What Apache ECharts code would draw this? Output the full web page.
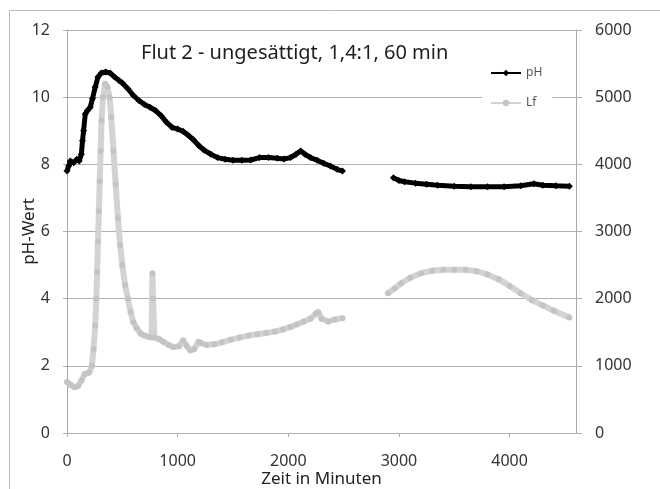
<!DOCTYPE html>
<html>
<head>
<meta charset="utf-8">
<script src="https://cdn.jsdelivr.net/npm/echarts@6/dist/echarts.min.js"></script>
<style>
  html, body { margin: 0; padding: 0; background: #fff; }
  #chart { width: 660px; height: 489px; }
</style>
</head>
<body>
<div id="chart"></div>
<script>
// Flut 2 – pH and conductivity (Lf) over time
const titleText = 'Flut 2 - ungesättigt, 1,4:1, 60 min';

// pH, first measuring run (minutes, pH)
const phTime1 = [0, 15, 30, 60, 90, 110, 130, 140, 150, 165, 185, 210, 230, 255, 280, 310, 350, 390, 430, 470, 500, 550, 600, 650, 700, 750, 800, 850, 900, 950, 1000, 1050, 1090, 1140, 1190, 1240, 1300, 1360, 1430, 1500, 1580, 1660, 1740, 1820, 1900, 1960, 2020, 2070, 2112, 2150, 2200, 2260, 2320, 2380, 2440, 2490];
const phVal1  = [7.8, 7.95, 8.1, 8.05, 8.15, 8.1, 8.3, 8.7, 9.0, 9.5, 9.6, 9.7, 9.95, 10.3, 10.6, 10.72, 10.75, 10.72, 10.6, 10.5, 10.42, 10.25, 10.05, 9.9, 9.78, 9.7, 9.6, 9.45, 9.25, 9.1, 9.05, 8.98, 8.88, 8.74, 8.56, 8.42, 8.3, 8.2, 8.15, 8.12, 8.12, 8.13, 8.2, 8.2, 8.18, 8.16, 8.2, 8.3, 8.4, 8.3, 8.2, 8.12, 8.03, 7.95, 7.85, 7.8];

// pH, second measuring run
const phTime2 = [2950, 3000, 3050, 3150, 3250, 3350, 3500, 3650, 3800, 3950, 4100, 4220, 4300, 4420, 4540];
const phVal2  = [7.6, 7.52, 7.48, 7.44, 7.41, 7.38, 7.35, 7.33, 7.33, 7.33, 7.36, 7.42, 7.38, 7.36, 7.35];

// Lf, first measuring run (minutes, conductivity)
const lfTime1 = [0, 30, 70, 100, 130, 160, 200, 225, 240, 255, 265, 272, 280, 288, 296, 304, 312, 325, 345, 365, 385, 400, 420, 440, 460, 480, 500, 525, 550, 575, 600, 630, 665, 700, 740, 765, 772, 778, 790, 830, 870, 920, 960, 1010, 1050, 1080, 1115, 1150, 1190, 1210, 1260, 1330, 1400, 1480, 1560, 1640, 1720, 1800, 1880, 1950, 2020, 2080, 2140, 2200, 2250, 2270, 2300, 2360, 2420, 2490];
const lfVal1  = [760, 720, 680, 700, 780, 880, 900, 1000, 1250, 1600, 2000, 2400, 2850, 3300, 3750, 4200, 4650, 5000, 5200, 5150, 5000, 4700, 4200, 3700, 3200, 2800, 2500, 2200, 2000, 1800, 1650, 1560, 1480, 1450, 1430, 1420, 2380, 2000, 1420, 1400, 1360, 1310, 1280, 1290, 1380, 1300, 1230, 1250, 1360, 1340, 1310, 1320, 1350, 1390, 1420, 1450, 1470, 1490, 1510, 1540, 1580, 1620, 1660, 1700, 1780, 1800, 1700, 1660, 1690, 1710];

// Lf, second measuring run
const lfTime2 = [2900, 2960, 3020, 3100, 3200, 3300, 3400, 3500, 3600, 3700, 3800, 3900, 4000, 4100, 4200, 4300, 4400, 4540];
const lfVal2  = [2080, 2150, 2230, 2310, 2380, 2415, 2430, 2430, 2430, 2410, 2360, 2290, 2190, 2080, 1980, 1900, 1820, 1720];

// Axis ticks
const xTicks = [0, 1000, 2000, 3000, 4000];
const phTicks = [0, 2, 4, 6, 8, 10, 12];
const lfTicks = [0, 1000, 2000, 3000, 4000, 5000, 6000];

const pairs = (xs, ys) => xs.map((x, i) => [x, ys[i]]);

const FONT = '"Noto Sans", "Open Sans", sans-serif';
const labelColor = '#333';
const gridColor = '#b0b0b0';

const phStyle = {
  type: 'line',
  name: 'pH',
  yAxisIndex: 0,
  z: 5,
  symbol: 'diamond',
  symbolSize: 7,
  showSymbol: true,
  itemStyle: { color: '#000' },
  lineStyle: { color: '#000', width: 5 },
  emphasis: { disabled: true },
  animation: false
};
const lfStyle = {
  type: 'line',
  name: 'Lf',
  yAxisIndex: 1,
  z: 3,
  symbol: 'circle',
  symbolSize: 6,
  showSymbol: true,
  itemStyle: { color: '#c4c4c4' },
  lineStyle: { color: '#d3d3d3', width: 6 },
  emphasis: { disabled: true },
  animation: false
};

const chart = echarts.init(document.getElementById('chart'), null, { renderer: 'canvas' });
chart.setOption({
  animation: false,
  backgroundColor: '#fff',
  textStyle: { fontFamily: FONT },
  title: {
    text: titleText,
    left: 141,
    top: 43,
    padding: 0,
    textStyle: { fontFamily: FONT, fontSize: 20, fontWeight: 'normal', color: '#1e1e1e' }
  },
  legend: {
    data: ['pH', 'Lf'],
    orient: 'vertical',
    left: 482,
    top: 65,
    itemWidth: 30,
    itemHeight: 8,
    itemGap: 18,
    padding: [2, 10, 2, 8],
    backgroundColor: '#fff',
    textStyle: { fontFamily: FONT, fontSize: 12, color: '#555' }
  },
  graphic: [{
    type: 'rect',
    shape: { x: 9.5, y: 10.5, width: 700, height: 520 },
    style: { fill: 'none', stroke: '#bcbcbc', lineWidth: 1 },
    silent: true,
    z: -1
  }],
  grid: { left: 67, right: 84, top: 30, bottom: 56, containLabel: false, outerBoundsMode: 'none' },
  xAxis: {
    type: 'value',
    min: xTicks[0],
    max: 4600,
    interval: xTicks[1] - xTicks[0],
    name: 'Zeit in Minuten',
    nameLocation: 'middle',
    nameGap: 38,
    nameMoveOverlap: false,
    nameTextStyle: { fontFamily: FONT, fontSize: 17, color: '#222' },
    axisLine: { show: true, lineStyle: { color: gridColor } },
    axisTick: { show: true, length: 4, lineStyle: { color: gridColor } },
    axisLabel: {
      fontFamily: FONT, fontSize: 16, color: labelColor, margin: 20,
      showMaxLabel: false,
      formatter: v => (xTicks.includes(v) ? String(v) : '')
    },
    splitLine: { show: false }
  },
  yAxis: [{
    type: 'value',
    min: phTicks[0],
    max: phTicks[phTicks.length - 1],
    interval: phTicks[1] - phTicks[0],
    name: 'pH-Wert',
    nameLocation: 'middle',
    nameGap: 29,
    nameMoveOverlap: false,
    nameTextStyle: { fontFamily: FONT, fontSize: 17, color: '#222' },
    axisLine: { show: true, lineStyle: { color: '#a8a8a8' } },
    axisTick: { show: true, length: 4, lineStyle: { color: gridColor } },
    axisLabel: { fontFamily: FONT, fontSize: 16, color: labelColor, margin: 17 },
    splitLine: { show: true, lineStyle: { color: gridColor, width: 1 } }
  }, {
    type: 'value',
    position: 'right',
    min: lfTicks[0],
    max: lfTicks[lfTicks.length - 1],
    interval: lfTicks[1] - lfTicks[0],
    axisLine: { show: true, lineStyle: { color: '#a8a8a8' } },
    axisTick: { show: true, length: 6, lineStyle: { color: gridColor } },
    axisLabel: { fontFamily: FONT, fontSize: 16, color: labelColor, margin: 19, formatter: v => String(v) },
    splitLine: { show: false }
  }],
  series: [
    Object.assign({}, lfStyle, { data: pairs(lfTime1, lfVal1) }),
    Object.assign({}, lfStyle, { data: pairs(lfTime2, lfVal2) }),
    Object.assign({}, phStyle, { data: pairs(phTime1, phVal1) }),
    Object.assign({}, phStyle, { data: pairs(phTime2, phVal2) })
  ]
});
</script>
</body>
</html>
